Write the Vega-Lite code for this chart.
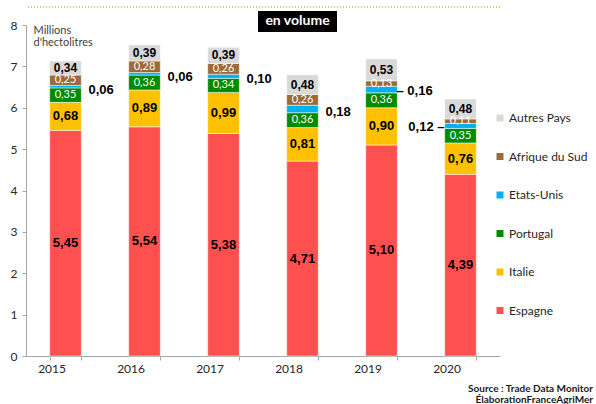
{
  "$schema": "https://vega.github.io/schema/vega-lite/v6.json",
  "width": 474,
  "height": 331,
  "autosize": {"type": "none"},
  "padding": {"left": 26, "top": 25, "right": 96, "bottom": 48},
  "background": "white",
  "config": {
    "view": {"stroke": null},
    "font": "Lato",
    "axis": {"domainColor": "#A6A6A6", "tickColor": "#A6A6A6", "labelColor": "#262626", "labelFontSize": 12, "grid": false, "tickSize": 4}
  },
  "title": {
    "text": ["Source : Trade Data Monitor", "ÉlaborationFranceAgriMer"],
    "orient": "bottom",
    "anchor": "end",
    "frame": "group",
    "fontSize": 10,
    "fontWeight": "bold",
    "color": "#1a1a1a",
    "lineHeight": 11,
    "dx": 93,
    "offset": 10
  },
  "layer": [
    {
      "data": {"values": [{"d": 1}]},
      "layer": [
        {
          "mark": {"type": "rule", "color": "#92D050", "strokeDash": [1, 2], "strokeWidth": 1.5},
          "encoding": {"y": {"datum": 8.435, "type": "quantitative", "scale": {"domain": [0, 8], "nice": false}}}
        },
        {
          "mark": {"type": "bar", "color": "black", "width": 79, "xOffset": -5},
          "encoding": {
            "x": {"datum": "2018", "type": "nominal"},
            "y": {"datum": 8.34, "type": "quantitative", "scale": {"domain": [0, 8], "nice": false}},
            "y2": {"datum": 7.83}
          }
        },
        {
          "mark": {"type": "text", "text": "en volume", "color": "white", "fontWeight": "bold", "fontSize": 14, "xOffset": -5, "baseline": "middle"},
          "encoding": {
            "x": {"datum": "2018", "type": "nominal"},
            "y": {"datum": 8.085, "type": "quantitative", "scale": {"domain": [0, 8], "nice": false}}
          }
        }
      ]
    },
    {
      "data": {
        "values": [
          {"annee": "2015", "pays": "Espagne", "v": 5.45},
          {"annee": "2015", "pays": "Italie", "v": 0.68},
          {"annee": "2015", "pays": "Portugal", "v": 0.35},
          {"annee": "2015", "pays": "Etats-Unis", "v": 0.06},
          {"annee": "2015", "pays": "Afrique du Sud", "v": 0.25},
          {"annee": "2015", "pays": "Autres Pays", "v": 0.34},
          {"annee": "2016", "pays": "Espagne", "v": 5.54},
          {"annee": "2016", "pays": "Italie", "v": 0.89},
          {"annee": "2016", "pays": "Portugal", "v": 0.36},
          {"annee": "2016", "pays": "Etats-Unis", "v": 0.06},
          {"annee": "2016", "pays": "Afrique du Sud", "v": 0.28},
          {"annee": "2016", "pays": "Autres Pays", "v": 0.39},
          {"annee": "2017", "pays": "Espagne", "v": 5.38},
          {"annee": "2017", "pays": "Italie", "v": 0.99},
          {"annee": "2017", "pays": "Portugal", "v": 0.34},
          {"annee": "2017", "pays": "Etats-Unis", "v": 0.10},
          {"annee": "2017", "pays": "Afrique du Sud", "v": 0.26},
          {"annee": "2017", "pays": "Autres Pays", "v": 0.39},
          {"annee": "2018", "pays": "Espagne", "v": 4.71},
          {"annee": "2018", "pays": "Italie", "v": 0.81},
          {"annee": "2018", "pays": "Portugal", "v": 0.36},
          {"annee": "2018", "pays": "Etats-Unis", "v": 0.18},
          {"annee": "2018", "pays": "Afrique du Sud", "v": 0.26},
          {"annee": "2018", "pays": "Autres Pays", "v": 0.48},
          {"annee": "2019", "pays": "Espagne", "v": 5.10},
          {"annee": "2019", "pays": "Italie", "v": 0.90},
          {"annee": "2019", "pays": "Portugal", "v": 0.36},
          {"annee": "2019", "pays": "Etats-Unis", "v": 0.16},
          {"annee": "2019", "pays": "Afrique du Sud", "v": 0.13},
          {"annee": "2019", "pays": "Autres Pays", "v": 0.53},
          {"annee": "2020", "pays": "Espagne", "v": 4.39},
          {"annee": "2020", "pays": "Italie", "v": 0.76},
          {"annee": "2020", "pays": "Portugal", "v": 0.35},
          {"annee": "2020", "pays": "Etats-Unis", "v": 0.12},
          {"annee": "2020", "pays": "Afrique du Sud", "v": 0.11},
          {"annee": "2020", "pays": "Autres Pays", "v": 0.48}
        ]
      },
      "transform": [
        {"calculate": "indexof(['Espagne','Italie','Portugal','Etats-Unis','Afrique du Sud','Autres Pays'], datum.pays)", "as": "rang"},
        {"stack": "v", "groupby": ["annee"], "sort": [{"field": "rang", "order": "ascending"}], "as": ["v0", "v1"]},
        {"calculate": "(datum.v0 + datum.v1) / 2", "as": "mid"},
        {"calculate": "replace(format(datum.v, '.2f'), '.', ',')", "as": "lab"}
      ],
      "encoding": {
        "x": {
          "field": "annee", "type": "nominal", "title": null,
          "scale": {"paddingInner": 0.6, "paddingOuter": 0.3},
          "axis": {"labelAngle": 0, "tickBand": "extent", "labelPadding": 8}
        }
      },
      "layer": [
        {
          "mark": {"type": "bar", "stroke": "white", "strokeWidth": 0.5},
          "encoding": {
            "y": {
              "field": "v0", "type": "quantitative",
              "scale": {"domain": [0, 8], "nice": false},
              "axis": {
                "values": [0, 1, 2, 3, 4, 5, 6, 7, 8],
                "title": ["Millions", "d'hectolitres"],
                "titleAngle": 0, "titleAlign": "left", "titleBaseline": "top",
                "titleX": 7, "titleY": -1, "titleFontSize": 11, "titleFontWeight": "normal",
                "titleColor": "#404040", "titleLineHeight": 12, "labelPadding": 5
              }
            },
            "y2": {"field": "v1"},
            "color": {
              "field": "pays", "type": "nominal",
              "scale": {
                "domain": ["Autres Pays", "Afrique du Sud", "Etats-Unis", "Portugal", "Italie", "Espagne"],
                "range": ["#D9D9D9", "#9C6A3A", "#00B0F0", "#008A00", "#FFC000", "#FF5050"]
              },
              "legend": {
                "title": null, "orient": "none", "legendX": 468, "legendY": 87,
                "symbolType": "square", "symbolSize": 49, "symbolStrokeWidth": 0,
                "labelFontSize": 12, "labelColor": "#262626", "labelOffset": 3,
                "rowPadding": 26.5, "padding": 0
              }
            }
          }
        },
        {
          "transform": [{"filter": "datum.pays == 'Espagne' || datum.pays == 'Italie'"}],
          "mark": {"type": "text", "font": "Liberation Sans", "fontWeight": "bold", "fontSize": 13, "color": "black", "baseline": "middle"},
          "encoding": {"y": {"field": "mid", "type": "quantitative"}, "text": {"field": "lab"}}
        },
        {
          "transform": [{"filter": "datum.pays == 'Portugal' || datum.pays == 'Afrique du Sud'"}],
          "mark": {"type": "text", "fontSize": 11, "color": "white", "baseline": "middle"},
          "encoding": {"y": {"field": "mid", "type": "quantitative"}, "text": {"field": "lab"}}
        },
        {
          "transform": [{"filter": "datum.pays == 'Autres Pays'"}],
          "mark": {"type": "text", "font": "Liberation Sans", "fontWeight": "bold", "fontSize": 12, "color": "black", "baseline": "middle"},
          "encoding": {"y": {"field": "mid", "type": "quantitative"}, "text": {"field": "lab"}}
        },
        {
          "transform": [{"filter": "datum.pays == 'Etats-Unis' && datum.annee <= '2018'"}],
          "mark": {"type": "text", "font": "Liberation Sans", "fontWeight": "bold", "fontSize": 13, "color": "black", "baseline": "middle", "align": "left", "dx": 23, "dy": 3},
          "encoding": {"y": {"field": "mid", "type": "quantitative"}, "text": {"field": "lab"}}
        },
        {
          "transform": [{"filter": "datum.pays == 'Etats-Unis' && datum.annee == '2019'"}],
          "mark": {"type": "text", "font": "Liberation Sans", "fontWeight": "bold", "fontSize": 13, "color": "black", "baseline": "middle", "align": "left", "dx": 15, "dy": 1},
          "encoding": {"y": {"field": "mid", "type": "quantitative"}, "text": {"value": "– 0,16"}}
        },
        {
          "transform": [{"filter": "datum.pays == 'Etats-Unis' && datum.annee == '2020'"}],
          "mark": {"type": "text", "font": "Liberation Sans", "fontWeight": "bold", "fontSize": 13, "color": "black", "baseline": "middle", "align": "right", "dx": -16, "dy": 1},
          "encoding": {"y": {"field": "mid", "type": "quantitative"}, "text": {"value": "0,12 –"}}
        }
      ]
    }
  ]
}
